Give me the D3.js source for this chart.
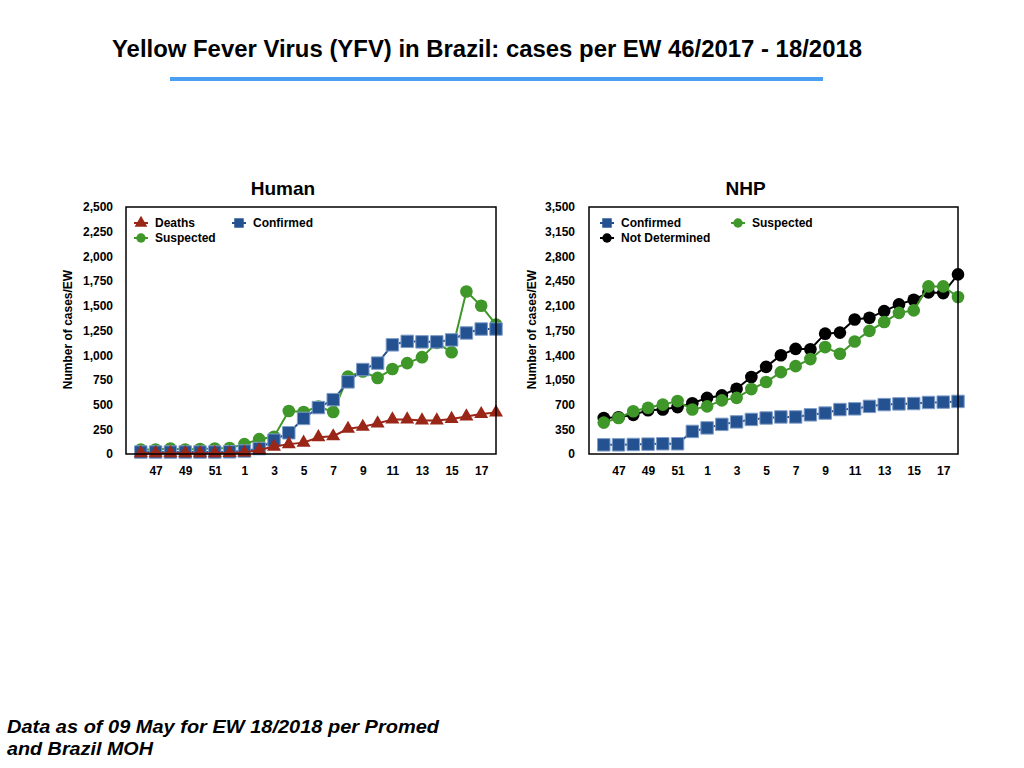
<!DOCTYPE html>
<html>
<head>
<meta charset="utf-8">
<script src="https://cdn.jsdelivr.net/npm/d3@7"></script>
<style>
  html, body { margin: 0; padding: 0; background: #fff; }
  svg text { font-family: "Liberation Sans", Arial, Helvetica, sans-serif; font-weight: bold; }
</style>
</head>
<body>
<div id="chart"></div>
<script>
// epidemiological weeks 46/2017 .. 18/2018
const weeks = [46, 47, 48, 49, 50, 51, 52, 1, 2, 3, 4, 5, 6, 7, 8, 9, 10, 11, 12, 13, 14, 15, 16, 17, 18];
const weekLabels = ["47", "49", "51", "1", "3", "5", "7", "9", "11", "13", "15", "17"];

// Human
const humanDeaths = [8, 8, 8, 8, 8, 8, 10, 15, 40, 75, 100, 115, 170, 180, 255, 275, 310, 350, 350, 340, 340, 355, 380, 405, 420];
const humanConfirmed = [20, 20, 20, 20, 20, 20, 22, 30, 55, 140, 215, 360, 470, 550, 730, 855, 920, 1105, 1140, 1135, 1135, 1155, 1225, 1265, 1265];
const humanSuspected = [45, 45, 55, 45, 50, 55, 60, 100, 150, 175, 435, 425, 480, 425, 785, 835, 770, 860, 920, 980, 1125, 1030, 1645, 1500, 1310];
const humanTicks = [0, 250, 500, 750, 1000, 1250, 1500, 1750, 2000, 2250, 2500];

// NHP (non-human primates)
const nhpConfirmed = [130, 130, 135, 140, 145, 145, 320, 370, 420, 455, 490, 510, 525, 525, 555, 580, 630, 640, 675, 700, 710, 715, 730, 735, 745];
const nhpSuspected = [445, 510, 605, 655, 700, 750, 630, 675, 760, 795, 920, 1020, 1160, 1245, 1345, 1515, 1420, 1595, 1745, 1870, 2000, 2035, 2375, 2375, 2225];
const nhpNotDetermined = [510, 520, 555, 620, 630, 665, 720, 795, 830, 925, 1090, 1235, 1400, 1490, 1485, 1705, 1720, 1905, 1930, 2025, 2120, 2185, 2290, 2280, 2545];
const nhpTicks = [0, 350, 700, 1050, 1400, 1750, 2100, 2450, 2800, 3150, 3500];

const RED = "#9a2617", BLUE = "#245290", GREEN = "#3f9629", BLACK = "#000";

const width = 1024, height = 768;

const svg = d3.select("#chart").append("svg")
    .attr("width", width)
    .attr("height", height);

// main title + blue rule
svg.append("text")
    .attr("x", 112).attr("y", 57)
    .attr("font-size", 23)
    .attr("textLength", 750)
    .attr("lengthAdjust", "spacingAndGlyphs")
    .text("Yellow Fever Virus (YFV) in Brazil: cases per EW 46/2017 - 18/2018");

svg.append("line")
    .attr("x1", 170).attr("x2", 823)
    .attr("y1", 79).attr("y2", 79)
    .attr("stroke", "#4a9ff0")
    .attr("stroke-width", 4);

// footer note
const foot = svg.append("g").attr("font-size", 19).attr("font-style", "italic");
foot.append("text").attr("x", 7).attr("y", 733)
    .attr("textLength", 432).attr("lengthAdjust", "spacingAndGlyphs")
    .text("Data as of 09 May for EW 18/2018 per Promed");
foot.append("text").attr("x", 7).attr("y", 755)
    .attr("textLength", 146).attr("lengthAdjust", "spacingAndGlyphs")
    .text("and Brazil MOH");

const shapes = {
    triangle: d3.symbol(d3.symbolTriangle, 85),
    square: d3.symbol(d3.symbolSquare, 155),
    circle: d3.symbol(d3.symbolCircle, 125)
};

function drawPanel(p) {
    const g = svg.append("g");

    const x = d3.scaleLinear()
        .domain([-1, weeks.length - 1])
        .range([p.left, p.right]);

    const y = d3.scaleLinear()
        .domain([0, p.ticks[p.ticks.length - 1]])
        .range([p.bottom, p.top]);

    // panel title
    g.append("text")
        .attr("x", (p.left + p.right) / 2 - 28)
        .attr("y", p.top - 12)
        .attr("text-anchor", "middle")
        .attr("font-size", 19)
        .text(p.title);

    // y axis
    g.append("g")
        .attr("transform", `translate(${p.left},0)`)
        .call(d3.axisLeft(y).tickValues(p.ticks).tickSize(0).tickPadding(p.yPad).tickFormat(d3.format(",")))
        .call(a => a.select(".domain").remove())
        .call(a => a.selectAll("text")
            .attr("font-size", 12)
            .attr("font-family", null)
            .attr("fill", "#000"));

    // x axis
    const labelIdx = weekLabels.map(l => weeks.indexOf(+l));
    g.append("g")
        .attr("transform", `translate(0,${p.bottom})`)
        .call(d3.axisBottom(x).tickValues(labelIdx).tickSize(0).tickPadding(12)
            .tickFormat(i => weeks[i]))
        .call(a => a.select(".domain").remove())
        .call(a => a.selectAll("text")
            .attr("font-size", 12)
            .attr("font-family", null)
            .attr("fill", "#000"));

    // y axis title
    g.append("text")
        .attr("transform", `translate(${p.yTitleX},${(p.top + p.bottom) / 2 - 1}) rotate(-90)`)
        .attr("text-anchor", "middle")
        .attr("dy", "0.35em")
        .attr("font-size", 12)
        .text("Number of cases/EW");

    // series
    const line = d3.line()
        .x((d, i) => x(i))
        .y(d => y(d));

    p.series.forEach(s => {
        const sg = g.append("g");
        sg.append("path")
            .datum(s.values)
            .attr("d", line)
            .attr("fill", "none")
            .attr("stroke", s.color)
            .attr("stroke-width", 2);
        sg.selectAll("path.mark")
            .data(s.values)
            .join("path")
            .attr("class", "mark")
            .attr("d", shapes[s.shape])
            .attr("transform", (d, i) => `translate(${x(i)},${y(d)})`)
            .attr("fill", s.color)
            .attr("stroke", s.shape === "square" ? "#7f9dc9" : "none")
            .attr("stroke-width", 1);
    });

    // plot frame
    g.append("rect")
        .attr("x", p.left).attr("y", p.top)
        .attr("width", p.right - p.left)
        .attr("height", p.bottom - p.top)
        .attr("fill", "none")
        .attr("stroke", "#000")
        .attr("stroke-width", 1.5);

    // legend
    p.series.forEach(s => {
        const lg = g.append("g").attr("transform", `translate(${s.lx},${s.ly})`);
        lg.append("line")
            .attr("x1", -7).attr("x2", 7)
            .attr("stroke", s.color).attr("stroke-width", 2);
        lg.append("path")
            .attr("d", d3.symbol(d3[{ triangle: "symbolTriangle", square: "symbolSquare", circle: "symbolCircle" }[s.shape]],
                s.shape === "square" ? 90 : 70))
            .attr("fill", s.color);
        lg.append("text")
            .attr("x", 14)
            .attr("dy", "0.36em")
            .attr("font-size", 12)
            .text(s.name);
    });
}

drawPanel({
    title: "Human",
    left: 126, right: 496, top: 207, bottom: 454,
    ticks: humanTicks, yPad: 13, yTitleX: 68,
    series: [
        { name: "Suspected", values: humanSuspected, color: GREEN, shape: "circle", lx: 141, ly: 238 },
        { name: "Confirmed", values: humanConfirmed, color: BLUE, shape: "square", lx: 239, ly: 223 },
        { name: "Deaths", values: humanDeaths, color: RED, shape: "triangle", lx: 141, ly: 223 }
    ]
});

drawPanel({
    title: "NHP",
    left: 589, right: 958, top: 207, bottom: 454,
    ticks: nhpTicks, yPad: 14, yTitleX: 532,
    series: [
        { name: "Confirmed", values: nhpConfirmed, color: BLUE, shape: "square", lx: 607, ly: 223 },
        { name: "Not Determined", values: nhpNotDetermined, color: BLACK, shape: "circle", lx: 607, ly: 238 },
        { name: "Suspected", values: nhpSuspected, color: GREEN, shape: "circle", lx: 738, ly: 223 }
    ]
});
</script>
</body>
</html>
